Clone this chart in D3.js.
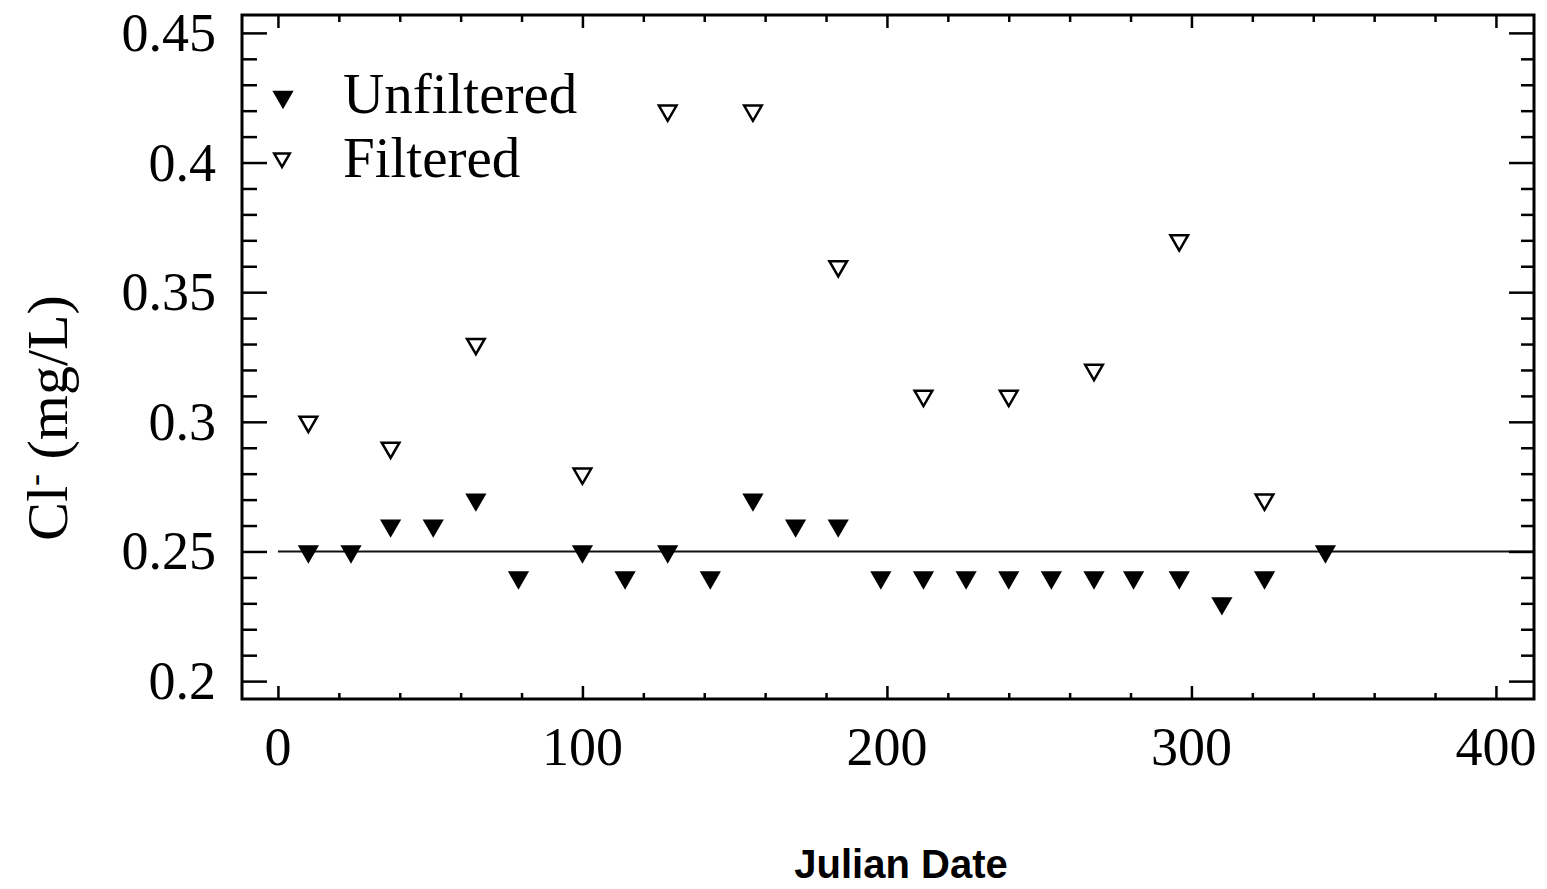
<!DOCTYPE html>
<html>
<head>
<meta charset="utf-8">
<script src="https://cdn.jsdelivr.net/npm/d3@7"></script>
<style>
  body { margin: 0; background: #fff; }
</style>
</head>
<body>
<div class="chart"></div>
<script>
// data
const unfilteredDay = [10, 24, 37, 51, 65, 79, 100, 114, 128, 142, 156, 170, 184, 198, 212, 226, 240, 254, 268, 281, 296, 310, 324, 344];
const unfilteredCl  = [0.25, 0.25, 0.26, 0.26, 0.27, 0.24, 0.25, 0.24, 0.25, 0.24, 0.27, 0.26, 0.26, 0.24, 0.24, 0.24, 0.24, 0.24, 0.24, 0.24, 0.24, 0.23, 0.24, 0.25];
const filteredDay = [10, 37, 65, 100, 128, 156, 184, 212, 240, 268, 296, 324];
const filteredCl  = [0.30, 0.29, 0.33, 0.28, 0.42, 0.42, 0.36, 0.31, 0.31, 0.32, 0.37, 0.27];
const xTicks = [0, 100, 200, 300, 400];
const yTicks = [0.2, 0.25, 0.3, 0.35, 0.4, 0.45];
const refLine = 0.25;

const width = 1547;
const height = 889;
// plot frame
const plotLeft = 242, plotRight = 1534, plotTop = 15, plotBottom = 699;

const svg = d3.select('.chart').append('svg')
    .attr('width', width)
    .attr('height', height)
    .style('display', 'block');

const x = d3.scaleLinear().domain([-11.8, 412.5]).range([plotLeft, plotRight]);
const y = d3.scaleLinear().domain([0.1931, 0.4569]).range([plotBottom, plotTop]);

const serif = '"Liberation Serif", "Times New Roman", serif';

// reference line at 0.25
svg.append('line')
    .attr('x1', x(0)).attr('x2', plotRight)
    .attr('y1', y(refLine)).attr('y2', y(refLine))
    .attr('stroke', '#111')
    .attr('stroke-width', 2);

// axes: ticks point inward
const xMinor = d3.range(0, 401, 20);
const yMinor = d3.range(0, 26).map(i => +(0.2 + i * 0.01).toFixed(2));

const bottomAxis = svg.append('g').attr('transform', `translate(0,${plotBottom})`)
    .call(d3.axisBottom(x).tickValues(xMinor).tickSizeInner(-6).tickSizeOuter(0).tickFormat(''));
const topAxis = svg.append('g').attr('transform', `translate(0,${plotTop})`)
    .call(d3.axisTop(x).tickValues(xMinor).tickSizeInner(-7).tickSizeOuter(0).tickFormat(''));
const leftAxis = svg.append('g').attr('transform', `translate(${plotLeft},0)`)
    .call(d3.axisLeft(y).tickValues(yMinor).tickSizeInner(-15).tickSizeOuter(0).tickFormat(''));
const rightAxis = svg.append('g').attr('transform', `translate(${plotRight},0)`)
    .call(d3.axisRight(y).tickValues(yMinor).tickSizeInner(-13).tickSizeOuter(0).tickFormat(''));

// longer major ticks
bottomAxis.selectAll('.tick').filter(d => d % 100 === 0).select('line').attr('y2', -13);
topAxis.selectAll('.tick').filter(d => d % 100 === 0).select('line').attr('y2', 13);
leftAxis.selectAll('.tick').filter(d => Math.round(d * 100) % 5 === 0).select('line').attr('x2', 25);
rightAxis.selectAll('.tick').filter(d => Math.round(d * 100) % 5 === 0).select('line').attr('x2', -25);

[bottomAxis, topAxis, leftAxis, rightAxis].forEach(g => {
    g.select('.domain').remove();
    g.selectAll('line').attr('stroke', '#000').attr('stroke-width', 2.5);
});

// frame
svg.append('rect')
    .attr('x', plotLeft).attr('y', plotTop)
    .attr('width', plotRight - plotLeft).attr('height', plotBottom - plotTop)
    .attr('fill', 'none')
    .attr('stroke', '#000')
    .attr('stroke-width', 3);

// tick labels
svg.append('g').selectAll('text')
    .data(xTicks)
    .enter()
    .append('text')
    .attr('x', d => x(d))
    .attr('y', 765)
    .attr('text-anchor', 'middle')
    .style('font-family', serif)
    .style('font-size', '54px')
    .text(d => d);

svg.append('g').selectAll('text')
    .data(yTicks)
    .enter()
    .append('text')
    .attr('x', 216)
    .attr('y', d => y(d) + 18)
    .attr('text-anchor', 'end')
    .style('font-family', serif)
    .style('font-size', '54px')
    .text(d => d);

// axis titles
const yTitle = svg.append('text')
    .attr('transform', 'translate(67,418) rotate(-90)')
    .attr('text-anchor', 'middle')
    .style('font-family', serif)
    .style('font-size', '58px');
yTitle.append('tspan').text('Cl');
yTitle.append('tspan').attr('dy', -21).style('font-size', '36px').text('-');
yTitle.append('tspan').attr('dy', 21).text(' (mg/L)');

svg.append('text')
    .attr('x', 901)
    .attr('y', 878)
    .attr('text-anchor', 'middle')
    .style('font-family', '"Liberation Sans", Arial, sans-serif')
    .style('font-weight', 'bold')
    .style('font-size', '40px')
    .text('Julian Date');

// markers: downward triangles
const filledTri = d3.symbol().type(d3.symbolTriangle).size(195);
const openTri = d3.symbol().type(d3.symbolTriangle).size(135);

svg.append('g').selectAll('path')
    .data(unfilteredDay.map((d, i) => [d, unfilteredCl[i]]))
    .enter()
    .append('path')
    .attr('d', filledTri)
    .attr('transform', d => `translate(${x(d[0])},${y(d[1])}) rotate(180)`)
    .attr('fill', '#000');

svg.append('g').selectAll('path')
    .data(filteredDay.map((d, i) => [d, filteredCl[i]]))
    .enter()
    .append('path')
    .attr('d', openTri)
    .attr('transform', d => `translate(${x(d[0])},${y(d[1])}) rotate(180)`)
    .attr('fill', '#fff')
    .attr('stroke', '#000')
    .attr('stroke-width', 2.5);

// legend
const legend = svg.append('g');
legend.append('path')
    .attr('d', filledTri)
    .attr('transform', 'translate(283,97) rotate(180)')
    .attr('fill', '#000');
legend.append('path')
    .attr('d', d3.symbol().type(d3.symbolTriangle).size(105))
    .attr('transform', 'translate(282,158) rotate(180)')
    .attr('fill', '#fff')
    .attr('stroke', '#000')
    .attr('stroke-width', 2.5);
legend.append('text')
    .attr('x', 343).attr('y', 113)
    .style('font-family', serif)
    .style('font-size', '57px')
    .text('Unfiltered');
legend.append('text')
    .attr('x', 343).attr('y', 177)
    .style('font-family', serif)
    .style('font-size', '57px')
    .text('Filtered');
</script>
</body>
</html>
